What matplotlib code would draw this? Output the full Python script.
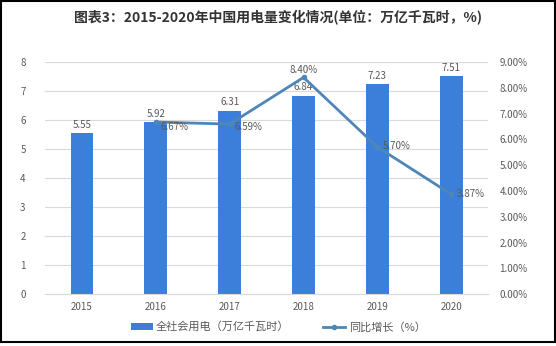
import matplotlib
matplotlib.use('Agg')
import matplotlib.pyplot as plt
from matplotlib.patches import Rectangle

plt.rcParams['font.family'] = ['Noto Sans CJK SC', 'DejaVu Sans']

# -----------------------------
# DATA
# -----------------------------
years = ['2015', '2016', '2017', '2018', '2019', '2020']
usage = [5.55, 5.92, 6.31, 6.84, 7.23, 7.51]
growth_years = ['2016', '2017', '2018', '2019', '2020']
growth = [6.67, 6.59, 8.40, 5.70, 3.87]

left_ticks = [0, 1, 2, 3, 4, 5, 6, 7, 8]
right_ticks = [0, 1, 2, 3, 4, 5, 6, 7, 8, 9]

bar_color = '#3B7FDB'
line_color = '#4F86B8'
text_color = '#595959'
grid_color = '#D9D9D9'

fig = plt.figure(figsize=(5.56, 3.46), dpi=100)
ax = fig.add_axes([0.081, 0.150, 0.797, 0.671])
ax2 = ax.twinx()

x = list(range(len(years)))
gx = [years.index(y) for y in growth_years]

bars = ax.bar(x, usage, width=0.31, color=bar_color, zorder=2)
for xi, v in zip(x, usage):
    ax.text(xi, v + 0.12, f'{v:.2f}', ha='center', va='bottom',
            fontsize=7, color=text_color)

line, = ax2.plot(gx, growth, color=line_color, lw=2, marker='o', ms=3,
                 zorder=3)
# label offsets (dx, dy, ha) relative to each point
offsets = [(0.07, -0.2, 'left'), (0.07, -0.1, 'left'),
           (0.0, 0.3, 'center'), (0.07, 0.05, 'left'),
           (0.07, 0.0, 'left')]
for (xi, v), (dx, dy, ha) in zip(zip(gx, growth), offsets):
    ax2.text(xi + dx, v + dy, f'{v:.2f}%', ha=ha, va='center',
             fontsize=7, color=text_color, zorder=4)

ax.set_xlim(-0.5, len(years) - 0.5)
ax.set_ylim(0, 8)
ax2.set_ylim(0, 9)
ax.set_yticks(left_ticks)
ax2.set_yticks(right_ticks)
ax2.set_yticklabels([f'{t:.2f}%' for t in right_ticks])
ax.set_xticks(x)
ax.set_xticklabels(years)

ax.grid(axis='y', color=grid_color, lw=0.8, zorder=0)
ax.set_axisbelow(True)
for a in (ax, ax2):
    for s in a.spines.values():
        s.set_visible(False)
    a.tick_params(length=0, labelsize=7, colors=text_color)
ax.spines['bottom'].set_visible(True)
ax.spines['bottom'].set_color(grid_color)
ax.tick_params(axis='y', pad=14)
ax2.tick_params(axis='y', pad=8)
ax.tick_params(axis='x', pad=6)

fig.legend([bars, line], ['全社会用电（万亿千瓦时）', '同比增长（%）'],
           loc='center', bbox_to_anchor=(0.5, 0.055), ncol=2, frameon=False,
           fontsize=8, labelcolor=text_color, handlelength=2.0,
           handleheight=0.5, handletextpad=0.3, columnspacing=3.0)

fig.text(0.5, 0.95, '图表3：2015-2020年中国用电量变化情况(单位：万亿千瓦时，%)',
         ha='center', va='center', fontsize=10, fontweight='bold',
         color='#333333')

fig.patches.append(Rectangle((0.002, 0.012), 0.996, 0.986,
                             transform=fig.transFigure, fill=False,
                             edgecolor='black', lw=1.5))

fig.savefig('out.png', dpi=100)
